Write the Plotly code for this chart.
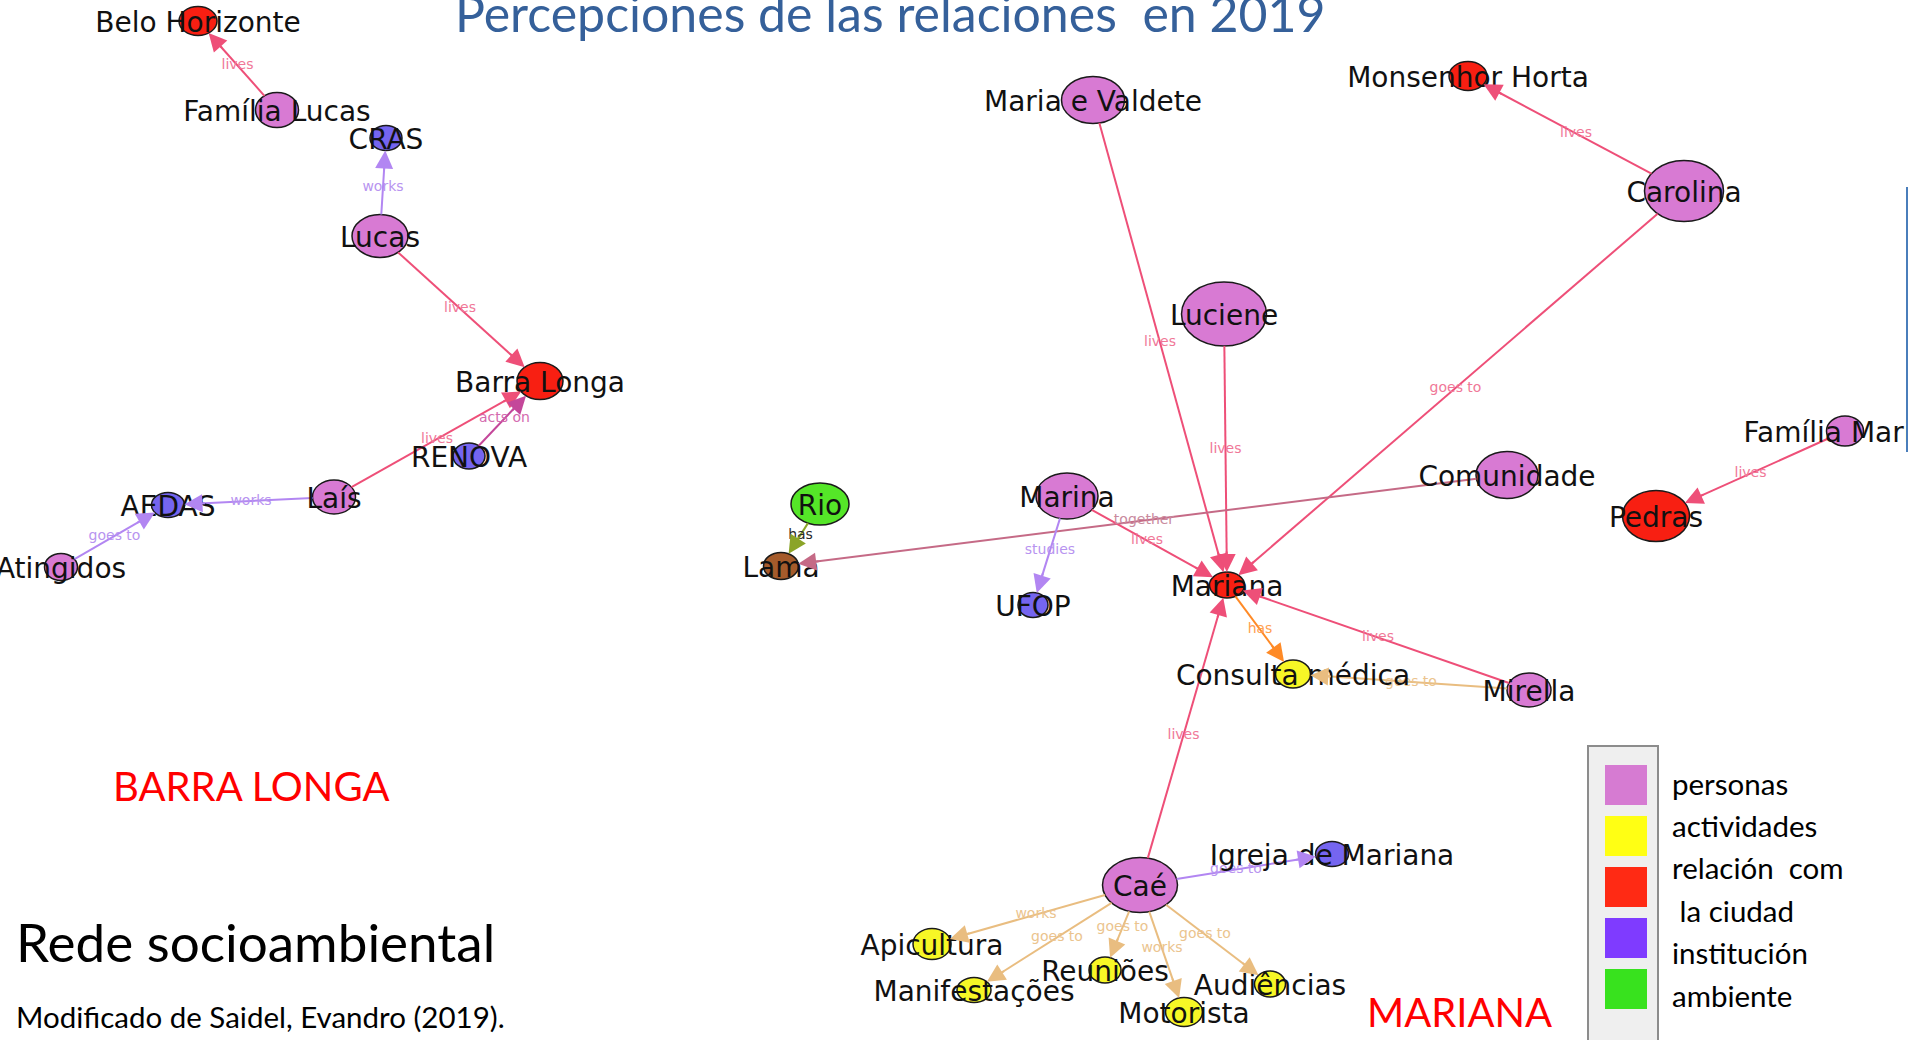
import numpy as np
import plotly.graph_objects as go

# ---- nodes (layout position in px of the 1915x1040 slide, ellipse size, group)
node_names = ["Belo Horizonte", "Família Lucas", "CRAS", "Lucas", "Barra Longa", "RENOVA", "Laís", "AEDAS",
              "Atingidos", "Maria e Valdete", "Monsenhor Horta", "Carolina", "Luciene", "Família Marina",
              "Comunidade", "Pedras", "Rio", "Lama", "Marina", "UFOP", "Mariana", "Consulta médica", "Mirella",
              "Caé", "Igreja de Mariana", "Apicultura", "Manifestações", "Reuniões", "Motorista", "Audiências"]
node_x = [198, 277, 386, 380, 540, 469, 334, 168, 61,
          1093, 1468, 1684, 1224, 1845, 1507, 1656,
          820, 781, 1067, 1033, 1227, 1293, 1529, 1140, 1332,
          932, 974, 1105, 1184, 1270]
node_y = [21, 110, 138, 236, 381, 456, 497, 505, 567,
          100, 76, 191, 314, 431, 475, 516,
          504, 566, 496, 605, 585, 674, 690, 885, 854,
          944, 990, 970, 1012, 984]
node_w = [38, 43, 32, 56, 46, 32, 43, 33, 33,
          63, 38, 79, 85, 37, 62, 67,
          58, 35, 62, 30, 35, 35, 44, 75, 33,
          38, 34, 32, 37, 31]
node_h = [29, 35, 25, 43, 37, 26, 34, 25, 27,
          47, 29, 61, 64, 30, 47, 51,
          42, 27, 46, 25, 26, 28, 34, 55, 25,
          31, 25, 26, 29, 26]
node_group = ["ciudad", "persona", "institucion", "persona", "ciudad", "institucion", "persona", "institucion",
              "persona", "persona", "ciudad", "persona", "persona", "persona", "persona", "ciudad",
              "ambiente", "lama", "persona", "institucion", "ciudad", "actividad", "persona", "persona",
              "institucion", "actividad", "actividad", "actividad", "actividad", "actividad"]

# ---- edges
edge_from = ["Família Lucas", "Lucas", "Lucas", "Laís", "RENOVA", "Laís", "Atingidos",
             "Carolina", "Maria e Valdete", "Luciene", "Carolina", "Família Marina", "Comunidade", "Rio",
             "Marina", "Marina", "Mariana", "Mirella", "Mirella", "Caé", "Caé",
             "Caé", "Caé", "Caé", "Caé", "Caé"]
edge_to = ["Belo Horizonte", "CRAS", "Barra Longa", "Barra Longa", "Barra Longa", "AEDAS", "AEDAS",
           "Monsenhor Horta", "Mariana", "Mariana", "Mariana", "Pedras", "Lama", "Lama",
           "Mariana", "UFOP", "Consulta médica", "Mariana", "Consulta médica", "Mariana", "Igreja de Mariana",
           "Apicultura", "Manifestações", "Reuniões", "Motorista", "Audiências"]
edge_label = ["lives", "works", "lives", "lives", "acts on", "works", "goes to",
              "lives", "lives", "lives", "goes to", "lives", "together", "has",
              "lives", "studies", "has", "lives", "goes to", "lives", "goes to",
              "works", "goes to", "goes to", "works", "goes to"]
edge_kind = ["city", "inst", "city", "city", "acts", "inst", "inst",
             "city", "city", "city", "city", "city", "together", "env",
             "city", "inst", "has", "city", "act", "city", "inst",
             "act", "act", "act", "act", "act"]

# ---- legend
legend_colors = ["#D67BD2", "#FFFF14", "#FF2A14", "#7F3BFF", "#38E21E"]
legend_lines = ["personas", "actividades", "relación\u00a0 com", "\u00a0la ciudad", "institución", "ambiente"]

GROUP_COLORS = {"persona": "#D87AD3", "ciudad": "#F81F12", "institucion": "#7565F0",
                "actividad": "#F7F726", "ambiente": "#55E628", "lama": "#A55B2B"}
EDGE_STYLE = {  # line colour, label colour
    "city": ("#EE4F78", "#F07898"),
    "inst": ("#B286F2", "#B894F0"),
    "acts": ("#C4479A", "#D46AAE"),
    "together": ("#C56A86", "#C98A9E"),
    "env": ("#8BA428", "#2A2A2A"),
    "has": ("#FF8A26", "#FFA050"),
    "act": ("#E9BD80", "#EBC48E"),
}
LABEL_FONT = "DejaVu Sans"
SLIDE_FONT = "Lato"
LABEL_DROP = 4  # node names sit a touch below the node centre

idx = {n: i for i, n in enumerate(node_names)}


def ell_r(i, ux, uy):
    a, b = node_w[i] / 2, node_h[i] / 2
    return 1 / np.sqrt((ux / a) ** 2 + (uy / b) ** 2)


fig = go.Figure()

mid_x, mid_y, lab_col = [], [], []
for s, t, kind in zip(edge_from, edge_to, edge_kind):
    i, j = idx[s], idx[t]
    dx, dy = node_x[j] - node_x[i], node_y[j] - node_y[i]
    d = np.hypot(dx, dy)
    ux, uy = dx / d, dy / d
    x0, y0 = node_x[i] + ux * ell_r(i, ux, uy), node_y[i] + uy * ell_r(i, ux, uy)
    x1, y1 = node_x[j] - ux * ell_r(j, ux, uy), node_y[j] - uy * ell_r(j, ux, uy)
    col, lcol = EDGE_STYLE[kind]
    fig.add_trace(go.Scatter(x=[x0, x1 - ux * 10], y=[y0, y1 - uy * 10], mode="lines",
                             line=dict(color=col, width=2), hoverinfo="skip"))
    fig.add_annotation(x=x1, y=y1, ax=x1 - ux * 22, ay=y1 - uy * 22, xref="x", yref="y",
                       axref="x", ayref="y", text="", showarrow=True, arrowhead=2,
                       arrowsize=1.8, arrowwidth=2, arrowcolor=col, standoff=0)
    mid_x.append((node_x[i] + node_x[j]) / 2)
    mid_y.append((node_y[i] + node_y[j]) / 2)
    lab_col.append(lcol)

# nodes as ellipses on the data axes
for i in range(len(node_names)):
    fig.add_shape(type="circle", xref="x", yref="y", layer="below",
                  x0=node_x[i] - node_w[i] / 2, x1=node_x[i] + node_w[i] / 2,
                  y0=node_y[i] - node_h[i] / 2, y1=node_y[i] + node_h[i] / 2,
                  fillcolor=GROUP_COLORS[node_group[i]], line=dict(color="#1a1a1a", width=1.5))

fig.add_trace(go.Scatter(x=mid_x, y=mid_y, mode="text", text=edge_label, hoverinfo="skip",
                         textfont=dict(family=LABEL_FONT, size=14, color=lab_col)))
fig.add_trace(go.Scatter(x=node_x, y=[v + LABEL_DROP for v in node_y], mode="text", text=node_names,
                         textposition="middle center", cliponaxis=True, hoverinfo="text",
                         textfont=dict(family=LABEL_FONT, size=28, color="#111111")))

# legend box
fig.add_shape(type="rect", xref="x", yref="y", x0=1588, x1=1658, y0=746, y1=1046,
              fillcolor="#EFEFEF", line=dict(color="#8C8C8C", width=2))
for k, c in enumerate(legend_colors):
    yc = 785 + k * 51
    fig.add_shape(type="rect", xref="x", yref="y", x0=1605, x1=1647, y0=yc - 20, y1=yc + 20,
                  fillcolor=c, line=dict(width=0))
for k, txt in enumerate(legend_lines):
    fig.add_annotation(x=1670, y=783 + k * 42.4, xref="x", yref="y", text=txt, showarrow=False,
                       xanchor="left", yanchor="middle", font=dict(family=SLIDE_FONT, size=29.5, color="#000"))

# slide texts
fig.add_annotation(x=890, y=13, xref="x", yref="y", text="Percepciones de las relaciones\u00a0 en 2019",
                   showarrow=False, xanchor="center", yanchor="middle",
                   font=dict(family=SLIDE_FONT, size=50, color="#35609A"))
fig.add_annotation(x=251, y=786, xref="x", yref="y", text="BARRA LONGA", showarrow=False,
                   font=dict(family=SLIDE_FONT, size=40, color="#FF0000"))
fig.add_annotation(x=1459, y=1012, xref="x", yref="y", text="MARIANA", showarrow=False,
                   font=dict(family=SLIDE_FONT, size=40, color="#FF0000"))
fig.add_annotation(x=14, y=941, xref="x", yref="y", text="Rede socioambiental", showarrow=False,
                   xanchor="left", font=dict(family=SLIDE_FONT, size=53, color="#000"))
fig.add_annotation(x=14, y=1016, xref="x", yref="y", text="Modificado de Saidel, Evandro (2019).",
                   showarrow=False, xanchor="left", font=dict(family=SLIDE_FONT, size=29.5, color="#000"))

# slide border line on the right
fig.add_shape(type="line", xref="paper", yref="paper", x0=1, x1=1, y0=1 - 187 / 1040, y1=1 - 452 / 1040,
              line=dict(color="#4A7EBB", width=2))

fig.update_layout(width=1915, height=1040, margin=dict(l=0, r=8, t=0, b=0),
                  paper_bgcolor="white", plot_bgcolor="white", showlegend=False)
fig.update_xaxes(range=[0, 1907], visible=False, showgrid=False, zeroline=False)
fig.update_yaxes(range=[1040, 0], visible=False, showgrid=False, zeroline=False)

fig.write_html("out.html", config={"displayModeBar": False},
               post_script="document.body.style.margin='0';document.body.style.overflow='hidden';")
